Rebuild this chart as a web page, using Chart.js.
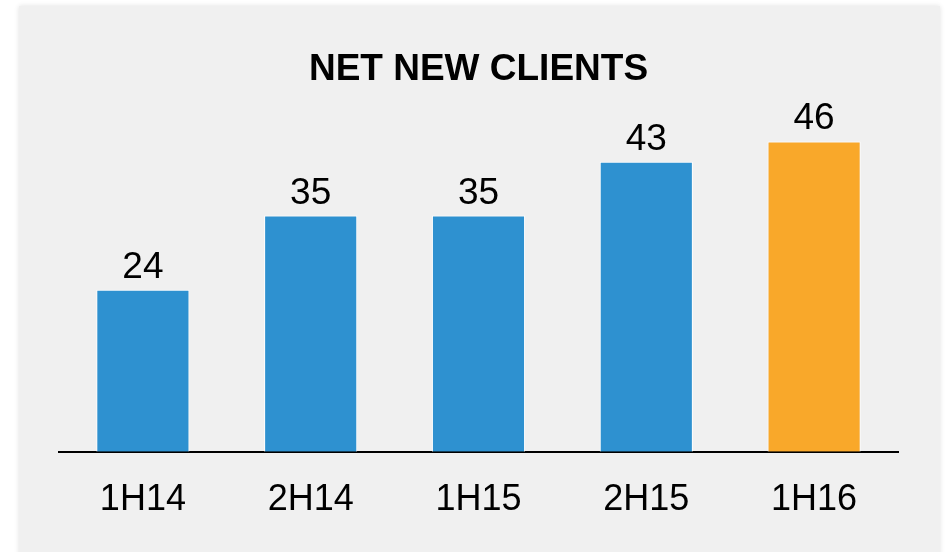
<!DOCTYPE html>
<html>
<head>
<meta charset="utf-8">
<script src="https://cdn.jsdelivr.net/npm/chart.js@4.4.1/dist/chart.umd.min.js"></script>
<style>
	html, body { margin:0; padding:0; background:#ffffff; overflow:hidden; }
	#pannello { position:absolute; left:19px; top:6px; width:921px; height:600px; background:#f0f0f0; box-shadow:0 0 5px rgba(0,0,0,0.12); }
	#grafico { position:absolute; left:0; top:0; }
</style>
</head>
<body>
<div id="pannello"></div>
<canvas id="grafico" width="945" height="552"></canvas>
<script>
// dati
const periodi = ["1H14", "2H14", "1H15", "2H15", "1H16"];
const nuoviClienti = [24, 35, 35, 43, 46];
const coloriBarre = ["#2e91d0", "#2e91d0", "#2e91d0", "#2e91d0", "#f9a82a"];

// etichette sopra le barre
const etichetteValori = {
	id: "etichetteValori",
	afterDatasetsDraw(chart){
		const ctx = chart.ctx;
		const meta = chart.getDatasetMeta(0);
		ctx.save();
		ctx.font = "37px 'Liberation Sans', Arial, sans-serif";
		ctx.fillStyle = "#000000";
		ctx.textAlign = "center";
		ctx.textBaseline = "alphabetic";
		meta.data.forEach((bar, i) => {
			ctx.fillText(String(nuoviClienti[i]), bar.x, bar.y - 12);
		});
		ctx.restore();
	}
};

const ctx = document.getElementById("grafico").getContext("2d");
new Chart(ctx, {
	type: "bar",
	data: {
		labels: periodi,
		datasets: [{
			data: nuoviClienti,
			backgroundColor: coloriBarre,
			borderColor: "#ffffff",
			borderWidth: 1,
			categoryPercentage: 1,
			barPercentage: 0.555
		}]
	},
	options: {
		responsive: false,
		animation: false,
		layout: { padding: { left: 59, right: 47, top: 0, bottom: 3 } },
		plugins: {
			legend: { display: false },
			tooltip: { enabled: false },
			title: {
				display: true,
				text: "NET NEW CLIENTS",
				color: "#000000",
				font: { family: "'Liberation Sans', Arial, sans-serif", size: 37, weight: "bold" },
				padding: { top: 48, bottom: 22 }
			}
		},
		scales: {
			x: {
				grid: { display: false, drawTicks: false },
				border: { display: true, color: "#000000", width: 2 },
				ticks: {
					color: "#000000",
					padding: 27,
					font: { family: "'Liberation Sans', Arial, sans-serif", size: 36 }
				}
			},
			y: {
				display: false,
				min: 0,
				max: 50
			}
		}
	},
	plugins: [etichetteValori]
});
</script>
</body>
</html>
